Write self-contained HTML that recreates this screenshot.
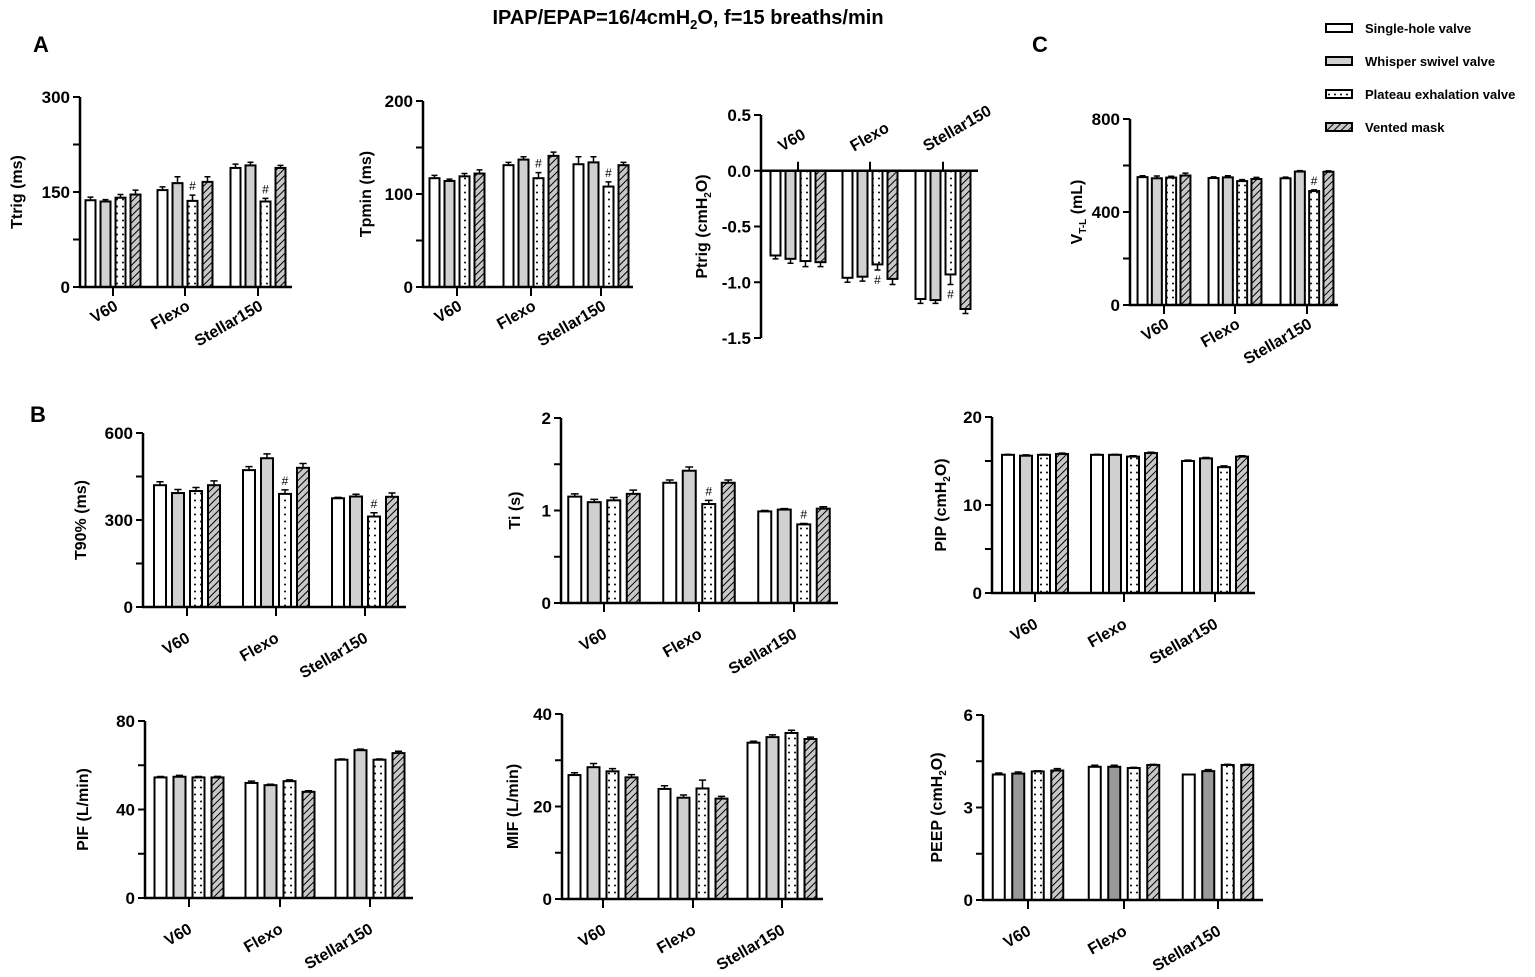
<!DOCTYPE html>
<html><head><meta charset="utf-8">
<style>
body{margin:0;background:#fff;}
svg{display:block;font-family:"Liberation Sans",Arial,sans-serif;font-weight:bold;}
</style></head>
<body>
<svg id="fig" width="1535" height="977" viewBox="0 0 1535 977" xmlns="http://www.w3.org/2000/svg">
<defs>
<pattern id="dots" width="6" height="7" patternUnits="userSpaceOnUse"><rect width="6" height="7" fill="#fff"/><circle cx="3" cy="3.5" r="1" fill="#000"/></pattern>
<pattern id="hatch" width="5" height="5" patternUnits="userSpaceOnUse" patternTransform="rotate(45)"><rect width="5" height="5" fill="#c8c8c8"/><line x1="0" y1="0" x2="0" y2="5" stroke="#000" stroke-width="2"/></pattern>
</defs>
<text x="688" y="24" font-size="20" text-anchor="middle">IPAP/EPAP=16/4cmH<tspan font-size="13" dy="5">2</tspan><tspan dy="-5">O, f=15 breaths/min</tspan></text>
<text x="33" y="52" font-size="22">A</text>
<text x="30" y="422" font-size="22">B</text>
<text x="1032" y="52" font-size="22">C</text>
<g font-size="13">
<g><rect x="1326" y="24" width="26" height="8" fill="#fff" stroke="#000" stroke-width="2"/><text x="1365" y="33">Single-hole valve</text></g>
<g><rect x="1326" y="57" width="26" height="8" fill="#d0d0d0" stroke="#000" stroke-width="2"/><text x="1365" y="66">Whisper swivel valve</text></g>
<g><rect x="1326" y="90" width="26" height="8" fill="url(#dots)" stroke="#000" stroke-width="2"/><text x="1365" y="99">Plateau exhalation valve</text></g>
<g><rect x="1326" y="123" width="26" height="8" fill="url(#hatch)" stroke="#000" stroke-width="2"/><text x="1365" y="132">Vented mask</text></g>
</g>
</svg>
<script>
const categories = ["V60","Flexo","Stellar150"];
const seriesNames = ["Single-hole valve","Whisper swivel valve","Plateau exhalation valve","Vented mask"];

const ttrigVals = [[137,135,141,146],[153,164,136,166],[188,192,135,188]];
const ttrigErr = [[5,3,5,7],[5,10,9,8],[6,5,5,4]];
const ttrigSig = [[0,0,0,0],[0,0,1,0],[0,0,1,0]];
const ttrigTicks = [0,75,150,225,300];
const ttrigTickLabels = ["0","","150","","300"];

const tpminVals = [[117,114,119,122],[131,137,117,141],[132,134,108,131]];
const tpminErr = [[3,2,3,4],[3,3,6,4],[8,6,5,3]];
const tpminSig = [[0,0,0,0],[0,0,1,0],[0,0,1,0]];
const tpminTicks = [0,50,100,150,200];
const tpminTickLabels = ["0","","100","","200"];

const ptrigVals = [[-0.76,-0.79,-0.81,-0.82],[-0.96,-0.95,-0.84,-0.97],[-1.15,-1.16,-0.93,-1.24]];
const ptrigErr = [[0.03,0.04,0.05,0.04],[0.04,0.04,0.05,0.05],[0.04,0.03,0.09,0.04]];
const ptrigSig = [[0,0,0,0],[0,0,1,0],[0,0,1,0]];
const ptrigTicks = [0.5,0,-0.5,-1,-1.5];
const ptrigTickLabels = ["0.5","0.0","-0.5","-1.0","-1.5"];

const vtlVals = [[550,545,548,557],[546,549,533,542],[545,574,490,573]];
const vtlErr = [[6,10,6,10],[5,7,6,7],[5,4,5,4]];
const vtlSig = [[0,0,0,0],[0,0,0,0],[0,0,1,0]];
const vtlTicks = [0,200,400,600,800];
const vtlTickLabels = ["0","","400","","800"];

const t90Vals = [[420,393,400,420],[472,513,390,480],[375,381,312,380]];
const t90Err = [[12,12,12,15],[12,15,14,15],[3,8,13,13]];
const t90Sig = [[0,0,0,0],[0,0,1,0],[0,0,1,0]];
const t90Ticks = [0,150,300,450,600];
const t90TickLabels = ["0","","300","","600"];

const tiVals = [[1.15,1.09,1.11,1.18],[1.30,1.43,1.07,1.30],[0.99,1.01,0.85,1.02]];
const tiErr = [[0.03,0.03,0.03,0.04],[0.03,0.04,0.04,0.03],[0.01,0.01,0.01,0.02]];
const tiSig = [[0,0,0,0],[0,0,1,0],[0,0,1,0]];
const tiTicks = [0,0.5,1,1.5,2];
const tiTickLabels = ["0","","1","","2"];

const pipVals = [[15.7,15.6,15.7,15.8],[15.7,15.7,15.5,15.9],[15.0,15.3,14.3,15.5]];
const pipErr = [[0.05,0.1,0.05,0.1],[0.05,0.05,0.1,0.1],[0.1,0.1,0.15,0.1]];
const pipSig = [[0,0,0,0],[0,0,0,0],[0,0,0,0]];
const pipTicks = [0,5,10,15,20];
const pipTickLabels = ["0","","10","","20"];

const pifVals = [[54.5,54.8,54.5,54.5],[52,51,52.8,48],[62.5,66.8,62.5,65.5]];
const pifErr = [[0.4,0.6,0.4,0.5],[0.8,0.4,0.6,0.5],[0.3,0.5,0.3,0.8]];
const pifSig = [[0,0,0,0],[0,0,0,0],[0,0,0,0]];
const pifTicks = [0,20,40,60,80];
const pifTickLabels = ["0","","40","","80"];

const mifVals = [[26.8,28.5,27.6,26.3],[23.8,21.9,23.9,21.7],[33.8,35.0,35.9,34.6]];
const mifErr = [[0.5,0.8,0.6,0.6],[0.7,0.6,1.8,0.5],[0.3,0.5,0.6,0.4]];
const mifSig = [[0,0,0,0],[0,0,0,0],[0,0,0,0]];
const mifTicks = [0,10,20,30,40];
const mifTickLabels = ["0","","20","","40"];

const peepVals = [[4.07,4.1,4.17,4.2],[4.32,4.32,4.28,4.38],[4.07,4.18,4.38,4.38]];
const peepErr = [[0.05,0.05,0.02,0.06],[0.05,0.05,0.02,0.02],[0.01,0.05,0.02,0.02]];
const peepSig = [[0,0,0,0],[0,0,0,0],[0,0,0,0]];
const peepTicks = [0,1.5,3,4.5,6];
const peepTickLabels = ["0","","3","","6"];

const NS = "http://www.w3.org/2000/svg";
const svg = document.getElementById("fig");
function mk(tag, attrs, parent){
  const e = document.createElementNS(NS, tag);
  for (const k in attrs) e.setAttribute(k, attrs[k]);
  parent.appendChild(e);
  return e;
}
function drawPanel(p){
  const g = mk("g", {}, svg);
  
  
  const ymin = Math.min(...p.ticks), ymax = Math.max(...p.ticks);
  const y = v => p.y0 + (v - ymin) / (ymax - ymin) * (p.yTop - p.y0);
  const baseY = y(Math.max(ymin, Math.min(0, ymax)));
  const fills = ["#fff", p.gray || "#d0d0d0", "url(#dots)", "url(#hatch)"];
  p.vals.forEach((grp, gi) => {
    grp.forEach((v, si) => {
      const cx = p.groupX[gi] + (si - 1.5) * p.sp;
      const top = y(v);
      const r = mk("rect", {x: cx - p.bw/2, y: Math.min(top, baseY), width: p.bw, height: Math.abs(baseY - top), fill: fills[si], stroke: "#000", "stroke-width": 2}, g);
      
      
      const dir = v < 0 ? -1 : 1;
      const e = p.err[gi][si];
      const ey = y(v + dir * e);
      const eb = mk("path", {d: `M${cx},${top}V${ey}M${cx - p.bw*0.3},${ey}H${cx + p.bw*0.3}`, stroke: "#000", "stroke-width": 1.5, fill: "none"}, g);
      
      
      if (p.sig[gi][si]) {
        const hy = dir > 0 ? ey - 5 : ey + 14;
        const h = mk("text", {x: cx, y: hy, "font-size": 12, "text-anchor": "middle", "font-weight": "normal"}, g);
        h.textContent = "#";
        
        
      }
    });
  });
  const ya = mk("line", {x1: p.ax, x2: p.ax, y1: y(ymax), y2: y(ymin), stroke: "#000", "stroke-width": 2.5}, g);
  
  
  const xa = mk("line", {x1: p.ax - 1, x2: p.xEnd, y1: baseY, y2: baseY, stroke: "#000", "stroke-width": 2.5}, g);
  
  
  p.ticks.forEach((t, i) => {
    const ty = y(t);
    const tk = mk("line", {x1: p.ax - 7, x2: p.ax, y1: ty, y2: ty, stroke: "#000", "stroke-width": 2}, g);
    
    
    if (p.tickLabels[i]) {
      const tl = mk("text", {x: p.ax - 10, y: ty + 6, "font-size": p.fs, "text-anchor": "end"}, g);
      tl.textContent = p.tickLabels[i];
      
      
    }
  });
  categories.forEach((c, gi) => {
    const gx = p.groupX[gi];
    const up = p.labelsAbove;
    const tk = mk("line", {x1: gx, x2: gx, y1: baseY, y2: up ? baseY - 9 : baseY + 9, stroke: "#000", "stroke-width": 2}, g);
    
    
    const lx = up ? gx - 16 : gx + (p.lxOff || 6), ly = up ? baseY - 19 : baseY + (p.lyOff || 22);
    const tl = mk("text", {x: lx, y: ly, "font-size": p.fs - 1, "text-anchor": up ? "start" : "end", transform: `rotate(-30 ${lx} ${ly})`}, g);
    tl.textContent = c;
    
    
  });
  const midY = (y(ymax) + y(ymin)) / 2;
  const at = mk("text", {x: p.titleX, y: midY, "font-size": p.fs - 1, "text-anchor": "middle", transform: `rotate(-90 ${p.titleX} ${midY})`}, g);
  at.innerHTML = p.title;
  
  
}
const sub2 = '<tspan font-size="10" dy="4">2</tspan><tspan dy="-4">O)</tspan>';
drawPanel({name:"ttrig", vals:ttrigVals, err:ttrigErr, sig:ttrigSig, ticks:ttrigTicks, tickLabels:ttrigTickLabels, ax:80, y0:287, yTop:97, xEnd:292, groupX:[113,185,258], sp:15, bw:10, fs:17, titleX:22, title:"Ttrig (ms)"});
drawPanel({name:"tpmin", vals:tpminVals, err:tpminErr, sig:tpminSig, ticks:tpminTicks, tickLabels:tpminTickLabels, ax:423, y0:287, yTop:101, xEnd:633, groupX:[457,531,601], sp:15, bw:10, fs:17, titleX:371, title:"Tpmin (ms)"});
drawPanel({name:"ptrig", vals:ptrigVals, err:ptrigErr, sig:ptrigSig, ticks:ptrigTicks, tickLabels:ptrigTickLabels, ax:761, y0:338, yTop:115, xEnd:978, groupX:[798,870,943], sp:15, bw:10, fs:17, titleX:707, title:"Ptrig (cmH" + sub2, labelsAbove:true});
drawPanel({name:"vtl", vals:vtlVals, err:vtlErr, sig:vtlSig, ticks:vtlTicks, tickLabels:vtlTickLabels, ax:1130, y0:305, yTop:119, xEnd:1338, groupX:[1164,1235,1307], sp:14.3, bw:10, fs:17, titleX:1082, title:'V<tspan font-size="10" dy="4">T-L</tspan><tspan dy="-4"> (mL)</tspan>'});
drawPanel({name:"t90", vals:t90Vals, err:t90Err, sig:t90Sig, ticks:t90Ticks, tickLabels:t90TickLabels, ax:143, y0:607, yTop:433, xEnd:406, groupX:[187,276,365], sp:18, bw:12, fs:17, titleX:86, title:"T90%  (ms)", lyOff:34, lxOff:4});
drawPanel({name:"ti", vals:tiVals, err:tiErr, sig:tiSig, ticks:tiTicks, tickLabels:tiTickLabels, ax:561, y0:603, yTop:418, xEnd:838, groupX:[604,699,794], sp:19.5, bw:13, fs:17, titleX:520, title:"Ti (s)", lyOff:34, lxOff:4});
drawPanel({name:"pip", vals:pipVals, err:pipErr, sig:pipSig, ticks:pipTicks, tickLabels:pipTickLabels, ax:992, y0:593, yTop:417, xEnd:1255, groupX:[1035,1124,1215], sp:18, bw:12, fs:17, titleX:946, title:"PIP (cmH" + sub2, lyOff:34, lxOff:4});
drawPanel({name:"pif", vals:pifVals, err:pifErr, sig:pifSig, ticks:pifTicks, tickLabels:pifTickLabels, ax:145, y0:898, yTop:721, xEnd:413, groupX:[189,280,370], sp:19, bw:12, fs:17, titleX:88, title:"PIF (L/min)", lyOff:34, lxOff:4});
drawPanel({name:"mif", vals:mifVals, err:mifErr, sig:mifSig, ticks:mifTicks, tickLabels:mifTickLabels, ax:562, y0:899, yTop:714, xEnd:823, groupX:[603,693,782], sp:19, bw:12, fs:17, titleX:518, title:"MIF (L/min)", lyOff:34, lxOff:4});
drawPanel({name:"peep", vals:peepVals, err:peepErr, sig:peepSig, ticks:peepTicks, tickLabels:peepTickLabels, ax:983, y0:900, yTop:715, xEnd:1263, groupX:[1028,1124,1218], sp:19.5, bw:12, fs:17, titleX:942, title:"PEEP (cmH" + sub2, gray:"#999", lyOff:34, lxOff:4});
</script>
</body></html>
